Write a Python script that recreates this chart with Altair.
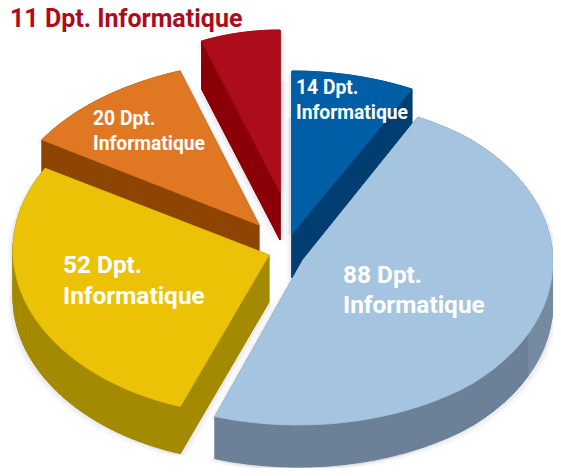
import math
import altair as alt
import pandas as pd

# Chart values
counts = [14, 88, 52, 20, 11]
unit = "Dpt."
word = "Informatique"
top_colors = ["#005EA6", "#A5C4DF", "#EBC205", "#E07823", "#AD0C1A"]
side_colors = ["#003D70", "#6C8197", "#A38A00", "#8E4503", "#8B0006"]
# ellipse centre x, centre y, radius x, radius y
ellipses = [(292, 234, 262, 163), (298, 262, 262, 163), (258, 250, 245, 165), (280, 218, 274, 158), (280, 190, 215, 160)]
apexes = [(292, 234), (303, 260), (269, 255), (259, 225), (280, 192)]
depths = [44, 42, 47, 47, 48]
draw_order = [4, 3, 0, 2, 1]
label_x = [296, 343, 63, 93, None]
label_y = [[94, 119], [283, 313], [273, 304], [125, 150], None]
label_size = [19.3, 24.4, 24.4, 19.3, None]
title_pos = (10, 27)
shadow_steps = [(1, 1), (-1, 1), (2, 1), (-2, 1), (3, 2), (-3, 2), (4, 3), (-4, 3), (6, 4), (-6, 4)]
band_x = 525
band_color = "#758BA0"
# the page leaves 545 px across: the far right of the large slice is eased in
ease_from = 470
ease_rate = 0.92

total = sum(counts)
starts = [sum(counts[:i]) / total * 2 * math.pi for i in range(len(counts))]
ends = [sum(counts[:i + 1]) / total * 2 * math.pi for i in range(len(counts))]

rows = []
shape_id = 0


def add(poly, color, alpha=1.0, line=0.8):
    global shape_id
    for k, (px, py) in enumerate(poly):
        rows.append({"shape": f"s{shape_id:05d}", "k": k, "x": px, "y": py, "c": color, "a": alpha, "l": line})
    shape_id += 1


for i in draw_order:
    cx, cy, rx, ry = ellipses[i]
    ax, ay = apexes[i]
    d = depths[i]
    n = 48
    rim = []
    for t in range(n + 1):
        ang = starts[i] + (ends[i] - starts[i]) * t / n
        rim_x = cx + rx * math.sin(ang)
        if rim_x > ease_from:
            rim_x = ease_from + (rim_x - ease_from) * ease_rate
        rim.append((rim_x, cy - ry * math.cos(ang)))
    outline = [(ax, ay)] + rim + [(ax, ay)]
    for sx, sy in shadow_steps:
        add([(px + sx, py + sy) for px, py in outline], "#5A6675", 0.03, 0)
        add([(px + sx, py + sy + d) for px, py in outline], "#5A6675", 0.03, 0)
    # extruded wall: the slice moved down, plus one quad per outline edge
    add([(px, py + d) for px, py in outline], side_colors[i])
    for (x0, y0), (x1, y1) in zip(outline[:-1], outline[1:]):
        wall = band_color if i == 1 and x0 > band_x and x1 > band_x else side_colors[i]
        add([(x0, y0), (x1, y1), (x1, y1 + d), (x0, y0 + d), (x0, y0)], wall)
    add(outline, top_colors[i])

df = pd.DataFrame(rows)

xs = alt.X("x:Q", scale=alt.Scale(domain=[8, 553], nice=False, zero=False), axis=None)
ys = alt.Y("y:Q", scale=alt.Scale(domain=[468, 8], nice=False, zero=False), axis=None)

shapes = alt.Chart(df).mark_line(interpolate="linear").encode(
    x=xs, y=ys, order="k:Q", detail="shape:N",
    fill=alt.Fill("c:N", scale=None, legend=None),
    stroke=alt.Stroke("c:N", scale=None, legend=None),
    fillOpacity=alt.FillOpacity("a:Q", scale=None, legend=None),
    strokeWidth=alt.StrokeWidth("l:Q", scale=None, legend=None),
)

text_rows = []
for i, v in enumerate(counts):
    if label_x[i] is None:
        continue
    text_rows.append({"x": label_x[i], "y": label_y[i][0], "t": f"{v} {unit}", "s": label_size[i]})
    text_rows.append({"x": label_x[i], "y": label_y[i][1], "t": word, "s": label_size[i]})
labels = alt.Chart(pd.DataFrame(text_rows)).mark_text(
    align="left", baseline="alphabetic", color="white", font="Roboto", fontWeight="bold"
).encode(x=xs, y=ys, text="t:N", size=alt.Size("s:Q", scale=None, legend=None))

title_df = pd.DataFrame([{"x": title_pos[0], "y": title_pos[1], "t": f"{counts[4]} {unit} {word}"}])
title = alt.Chart(title_df).mark_text(
    align="left", baseline="alphabetic", color=top_colors[4], font="Roboto", fontWeight="bold", fontSize=25
).encode(x=xs, y=ys, text="t:N")

chart = alt.layer(shapes, labels, title).properties(
    width=545, height=460, padding=0, autosize=alt.AutoSizeParams(type="none"), background="white"
).configure_view(stroke=None)

chart.save("out.html", embed_options={"renderer": "svg", "actions": False})
